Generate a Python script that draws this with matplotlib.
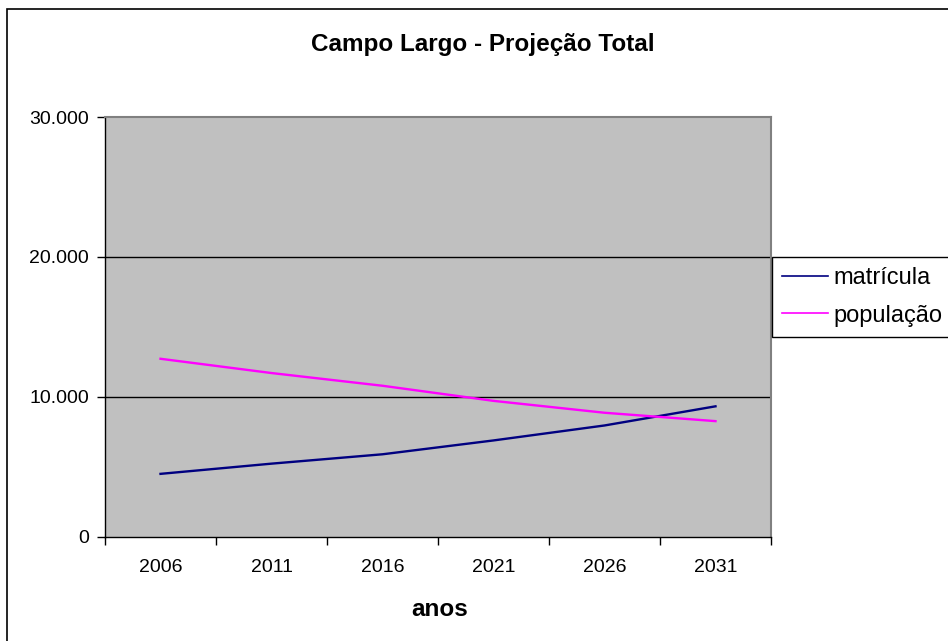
import matplotlib.pyplot as plt
from matplotlib.patches import Rectangle

# ====================================
# Data
# ====================================

anos = ["2006", "2011", "2016", "2021", "2026", "2031"]
matricula = [4480, 5210, 5880, 6870, 7940, 9310]
populacao = [12710, 11690, 10780, 9700, 8850, 8250]

y_ticks = [0, 10000, 20000, 30000]
y_labels = ["0", "10.000", "20.000", "30.000"]

# ====================================
# Figure
# ====================================

plt.rcParams["font.family"] = ["Liberation Sans", "DejaVu Sans"]

W, H = 948, 641
fig = plt.figure(figsize=(W / 100, H / 100), dpi=100)

# outer chart frame (right and bottom edges fall outside the image)
fig.patches.append(Rectangle((7 / W, -0.05), 1.0, 1 - 9 / H + 0.05,
                             transform=fig.transFigure, fill=False,
                             edgecolor="black", linewidth=1.2))

left, right, top, bottom = 105, 771, 117, 536.5
ax = fig.add_axes([left / W, 1 - bottom / H, (right - left) / W, (bottom - top) / H])
ax.set_facecolor("#C0C0C0")

x = list(range(len(anos)))
ax.plot(x, matricula, color="#000080", linewidth=1.7, label="matrícula")
ax.plot(x, populacao, color="#FF00FF", linewidth=1.7, label="população")

ax.set_xlim(-0.5, len(anos) - 0.5)
ax.set_ylim(0, 30000)

# gridlines
for v in y_ticks[1:3]:
    ax.axhline(v, color="black", linewidth=1, zorder=1)

# y axis
ax.set_yticks(y_ticks)
ax.set_yticklabels(y_labels, fontsize=14)
ax.tick_params(axis="y", direction="out", length=5.5, width=1, pad=6)

# x axis: ticks between categories, labels centered
ax.set_xticks([i - 0.5 for i in range(len(anos) + 1)])
ax.set_xticklabels([""] * (len(anos) + 1))
ax.set_xticks(x, minor=True)
ax.set_xticklabels(anos, minor=True, fontsize=14)
ax.tick_params(axis="x", which="major", direction="out", length=5.5, width=1)
ax.tick_params(axis="x", which="minor", length=0, pad=16)

for side in ["top", "right"]:
    ax.spines[side].set_color("#808080")
    ax.spines[side].set_linewidth(1.5)
for side in ["left", "bottom"]:
    ax.spines[side].set_color("black")
    ax.spines[side].set_linewidth(1)

ax.set_xlabel("anos", fontsize=17.5, fontweight="bold")
ax.xaxis.set_label_coords(0.503, -(609 - bottom) / (bottom - top))
ax.xaxis.label.set_va("center")

fig.text(483 / W, 1 - 45 / H, "Campo Largo - Projeção Total", ha="center", va="center",
         fontsize=17.5, fontweight="bold")

leg = fig.legend(loc="upper left", bbox_to_anchor=(772 / W, 1 - 257 / H),
                 fontsize=17, frameon=True, fancybox=False, edgecolor="black",
                 framealpha=1, handlelength=1.95, handletextpad=0.25,
                 borderaxespad=0, borderpad=0.42, labelspacing=0.67)
leg.get_frame().set_linewidth(1)
for line in leg.get_lines():
    line.set_linewidth(1.2)

fig.savefig("out.png", dpi=100)
